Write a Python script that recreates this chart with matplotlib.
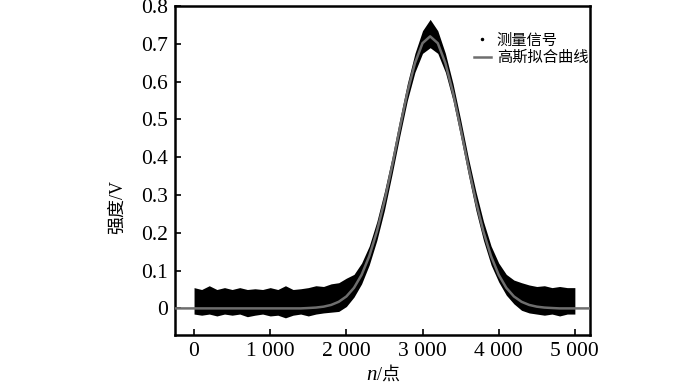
import matplotlib
matplotlib.use('Agg')
import matplotlib.pyplot as plt

plt.rcParams['font.family'] = ['Liberation Serif', 'Noto Sans CJK SC']

sig_x = list(range(0, 5001, 100))
sig_upper = [0.055, 0.050, 0.060, 0.050, 0.055, 0.050, 0.055, 0.050, 0.052, 0.050,
             0.055, 0.050, 0.060, 0.050, 0.052, 0.055, 0.060, 0.058, 0.065, 0.068,
             0.080, 0.090, 0.120, 0.165, 0.230, 0.310, 0.400, 0.500, 0.595, 0.675,
             0.735, 0.765, 0.735, 0.675, 0.595, 0.500, 0.400, 0.310, 0.230, 0.165,
             0.120, 0.090, 0.075, 0.068, 0.062, 0.058, 0.060, 0.055, 0.058, 0.055,
             0.055]
sig_lower = [-0.015, -0.018, -0.015, -0.020, -0.015, -0.018, -0.015, -0.022, -0.018, -0.015,
             -0.020, -0.018, -0.025, -0.018, -0.015, -0.020, -0.015, -0.012, -0.010, -0.008,
             0.005, 0.030, 0.065, 0.115, 0.180, 0.260, 0.355, 0.455, 0.550, 0.625,
             0.675, 0.690, 0.675, 0.625, 0.550, 0.455, 0.355, 0.260, 0.180, 0.115,
             0.070, 0.035, 0.012, -0.005, -0.012, -0.015, -0.018, -0.015, -0.020, -0.015,
             -0.015]

# gaussian fit curve
fit_x = [-250, 1400, 1500, 1600, 1700, 1800, 1900, 2000, 2100, 2200, 2300, 2400, 2500,
         2600, 2700, 2800, 2900, 3000, 3100, 3200, 3300, 3400, 3500, 3600, 3700,
         3800, 3900, 4000, 4100, 4200, 4300, 4400, 4500, 4600, 4700, 4800, 5200]
fit_y = [0.0, 0.0, 0.001, 0.0022, 0.0046, 0.0092, 0.0175, 0.0316, 0.0544, 0.0889, 0.138,
         0.203, 0.284, 0.377, 0.476, 0.571, 0.649, 0.702, 0.720, 0.702, 0.649, 0.571,
         0.476, 0.377, 0.284, 0.203, 0.138, 0.0889, 0.0544, 0.0316, 0.0175, 0.0092,
         0.0046, 0.0022, 0.001, 0.0, 0.0]

x_ticks = [0, 1000, 2000, 3000, 4000, 5000]
x_labels = ['0', '1 000', '2 000', '3 000', '4 000', '5 000']
y_ticks = [0, 0.1, 0.2, 0.3, 0.4, 0.5, 0.6, 0.7, 0.8]
y_labels = ['0', '0.1', '0.2', '0.3', '0.4', '0.5', '0.6', '0.7', '0.8']

fig = plt.figure(figsize=(7, 3.84), dpi=100)
ax = fig.add_axes([0.25, 0.128, 0.593, 0.856])

ax.fill_between(sig_x, sig_lower, sig_upper, color='black', linewidth=0, zorder=2)
# proxy for legend entry of the measured points
ax.plot([], [], ls='none', marker='.', ms=3, color='black', label='测量信号')
ax.plot(fit_x, fit_y, color='#6e6e6e', lw=1.8, zorder=3, label='高斯拟合曲线')

ax.set_xlim(-250, 5200)
ax.set_ylim(-0.07, 0.8)
ax.set_xticks(x_ticks)
ax.set_xticklabels(x_labels, fontsize=15.5)
ax.set_yticks(y_ticks)
ax.set_yticklabels(y_labels, fontsize=15.5)
ax.tick_params(direction='in', length=4, width=1.2, pad=5)

for s in ax.spines.values():
    s.set_linewidth(1.8)

# x label: italic n followed by "/点"
fig.text(377 / 700, 0.022, 'n', fontsize=15, style='italic', ha='right', va='center')
fig.text(377 / 700, 0.022, '/点', fontsize=13, ha='left', va='center')

ax.set_ylabel('强度/V', fontsize=13)
ax.yaxis.set_label_coords(-0.118, 0.39)

ax.legend(loc='upper left', bbox_to_anchor=(0.72, 0.917), frameon=False, fontsize=11,
          handlelength=1.1, handletextpad=0.4, labelspacing=0.2, borderaxespad=0,
          borderpad=0)

fig.savefig('out.png', dpi=100)
